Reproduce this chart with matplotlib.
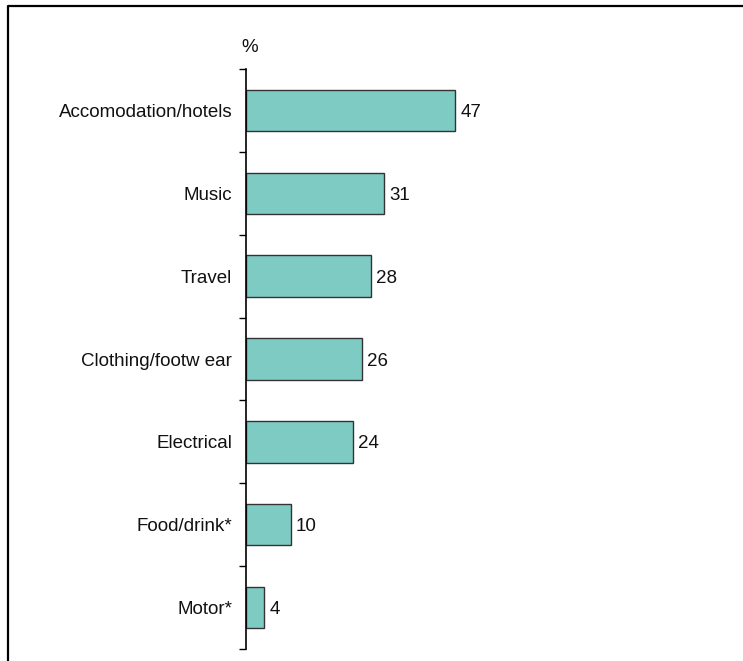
import matplotlib
matplotlib.use("Agg")
import matplotlib.pyplot as plt
from matplotlib.lines import Line2D

categories = [
    "Accomodation/hotels",
    "Music",
    "Travel",
    "Clothing/footw ear",
    "Electrical",
    "Food/drink*",
    "Motor*",
]
values = [47, 31, 28, 26, 24, 10, 4]

W, H = 743, 661
plt.rcParams["font.family"] = ["Liberation Sans", "DejaVu Sans"]

fig = plt.figure(figsize=(W / 100, H / 100), dpi=100)

# axes placed in pixel terms: spine at x=246, from y=69 to y=649
left, right, top, bottom = 246, 735, 69, 649
ax = fig.add_axes([left / W, (H - bottom) / H, (right - left) / W, (bottom - top) / H])

ypos = list(range(len(categories)))
ax.barh(ypos, values, height=0.5, color="#7ecbc3", edgecolor="#333333", linewidth=1)

for y, v in zip(ypos, values):
    ax.annotate(str(v), xy=(v, y), xytext=(4, -1.5), textcoords="offset points",
                va="center", ha="left", fontsize=13.5, color="#111111")

ax.set_xlim(0, (right - left) / 4.45)
ax.set_ylim(len(categories) - 0.5, -0.5)

ax.set_yticks(ypos)
ax.set_yticklabels(categories, fontsize=13.5, color="#111111")
ax.tick_params(axis="y", which="major", length=0, pad=10)
ax.set_yticks([i - 0.5 for i in range(len(categories) + 1)], minor=True)
ax.tick_params(axis="y", which="minor", length=5, width=1, direction="out")
ax.set_xticks([])

for side in ["top", "right", "bottom"]:
    ax.spines[side].set_visible(False)
ax.spines["left"].set_linewidth(1.2)

fig.text(250 / W, 1 - 47 / H, "%", ha="center", va="center", fontsize=13.5, color="#111111")

# frame around the chart (left and top edges visible)
fig.add_artist(Line2D([8 / W, 8 / W, 1.0], [0.0, 1 - 6 / H, 1 - 6 / H],
                      transform=fig.transFigure, color="black", linewidth=1.6))

fig.savefig("out.png", dpi=100)
